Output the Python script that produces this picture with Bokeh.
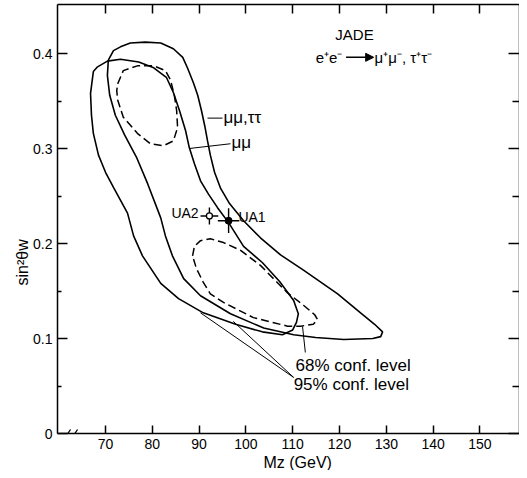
from math import pi
import numpy as np
from bokeh.plotting import figure
from bokeh.models import Range1d, LinearAxis, FixedTicker, Label, Arrow, NormalHead, Grid, Title
from bokeh.embed import file_html
from bokeh.resources import INLINE

# ---------------- data ----------------
mz_ticks = [70, 80, 90, 100, 110, 120, 130, 140, 150]
mz_tick_labels = ["70", "80", "90", "100", "110", "120", "130", "140", "150"]
sw_ticks = [0.0, 0.1, 0.2, 0.3, 0.4]
sw_tick_labels = ["0", "0.1", "0.2", "0.3", "0.4"]
sw_minor_ticks = [0.05, 0.15, 0.25, 0.35]

# 95% contour, mu mu only
mumu95_mz = [68.3, 67.4, 66.8, 67.0, 67.4, 68.5, 70.0, 71.7, 74.7, 76.0, 77.9, 81.8, 85.6,
             90.9, 97.8, 103.5, 107.8, 110.0, 110.8, 111.2, 110.2, 107.2, 103.5, 99.5, 96.3,
             93.9, 92.0, 90.3, 89.0, 87.9, 87.1, 85.8, 84.5, 83.0, 80.3, 77.1, 73.2, 70.4, 68.3]
mumu95_sw = [0.386, 0.381, 0.358, 0.335, 0.316, 0.293, 0.275, 0.259, 0.232, 0.208, 0.187, 0.158, 0.142,
             0.127, 0.115, 0.107, 0.104, 0.109, 0.117, 0.126, 0.140, 0.160, 0.180, 0.197, 0.222,
             0.238, 0.252, 0.266, 0.284, 0.301, 0.319, 0.340, 0.359, 0.375, 0.385, 0.391, 0.394, 0.392, 0.386]

# 95% contour, mu mu + tau tau
mumutautau95_mz = [70.6, 71.7, 73.2, 75.3, 78.5, 81.8, 84.5, 86.5, 87.5, 88.8, 89.7, 90.5, 91.2,
                   91.8, 92.4, 93.3, 94.6, 96.5, 99.5, 103.1, 107.4, 112.3, 119.6, 124.5, 127.5,
                   129.2, 128.8, 127.1, 120.9, 114.9, 110.2, 103.8, 96.7, 90.3, 86.7, 84.3, 82.8,
                   81.8, 79.0, 76.6, 74.1, 72.1, 70.9, 70.4, 70.6]
mumutautau95_sw = [0.393, 0.403, 0.407, 0.411, 0.412, 0.411, 0.405, 0.396, 0.385, 0.369, 0.356, 0.340, 0.324,
                   0.308, 0.293, 0.275, 0.258, 0.242, 0.224, 0.206, 0.188, 0.172, 0.147, 0.127, 0.115,
                   0.107, 0.102, 0.100, 0.099, 0.101, 0.104, 0.111, 0.126, 0.145, 0.163, 0.187, 0.208,
                   0.227, 0.263, 0.291, 0.314, 0.335, 0.356, 0.377, 0.393]

# 68% contours (dashed)
upper68_mz = [72.6, 73.8, 76.8, 80.3, 82.8, 83.9, 84.7, 85.2, 85.4, 84.5, 82.4, 79.6, 76.8,
              73.8, 72.6, 72.4, 72.6]
upper68_sw = [0.368, 0.382, 0.387, 0.387, 0.382, 0.372, 0.356, 0.340, 0.322, 0.308, 0.303, 0.305, 0.316,
              0.333, 0.351, 0.361, 0.368]
lower68_mz = [88.6, 89.0, 90.3, 92.4, 95.2, 98.8, 103.1, 108.9, 112.3, 114.7, 115.3, 114.4, 111.7,
              108.9, 101.6, 95.2, 92.4, 90.9, 89.4, 88.6]
lower68_sw = [0.187, 0.197, 0.203, 0.205, 0.201, 0.193, 0.177, 0.148, 0.135, 0.125, 0.120, 0.115, 0.113,
              0.113, 0.122, 0.138, 0.147, 0.159, 0.174, 0.187]

# collider measurements
ua_names = ["UA1", "UA2"]
ua_mz = [96.3, 92.2]
ua_sw = [0.224, 0.229]
ua_mz_err = [2.3, 1.9]
ua_sw_err = [0.013, 0.009]

FONT = "Liberation Sans"

p = figure(frame_width=462, frame_height=429,
           x_range=Range1d(59.74, 158.46), y_range=Range1d(0, 0.4516),
           x_axis_location=None, y_axis_location=None,
           output_backend="svg", toolbar_location=None,
           min_border_left=57, min_border_right=0, min_border_top=4, min_border_bottom=37)
p.outline_line_color = None
p.background_fill_color = "white"
p.border_fill_color = "white"
for r in list(p.center):
    if isinstance(r, Grid):
        r.visible = False

ax_style = dict(axis_line_width=1.5, axis_line_color="black",
                major_tick_line_width=1.5, major_tick_line_color="black",
                minor_tick_line_width=1.5, minor_tick_line_color="black",
                major_tick_out=0, minor_tick_out=0)

left = LinearAxis(ticker=FixedTicker(ticks=sw_ticks, minor_ticks=sw_minor_ticks),
                  major_tick_in=10, minor_tick_in=4, major_label_standoff=5,
                  major_label_text_font=FONT, major_label_text_font_size="14px",
                  major_label_text_color="black",
                  major_label_overrides=dict(zip(sw_ticks, sw_tick_labels)), **ax_style)
p.add_layout(left, "left")

right = LinearAxis(ticker=FixedTicker(ticks=sw_ticks, minor_ticks=sw_minor_ticks),
                   major_tick_in=11, minor_tick_in=7, major_label_standoff=0,
                   major_label_text_font_size="0px", major_label_text_color=None, **ax_style)
p.add_layout(right, "right")

bottom = LinearAxis(ticker=FixedTicker(ticks=mz_ticks, minor_ticks=[]),
                    major_tick_in=8, major_label_standoff=5,
                    major_label_text_font=FONT, major_label_text_font_size="14px",
                    major_label_text_color="black",
                    major_label_overrides=dict(zip(mz_ticks, mz_tick_labels)), **ax_style)
p.add_layout(bottom, "below")

top = LinearAxis(ticker=FixedTicker(ticks=mz_ticks, minor_ticks=[]),
                 major_tick_in=9, major_label_standoff=0,
                 major_label_text_font_size="0px", major_label_text_color=None, **ax_style)
p.add_layout(top, "above")

# axis titles
p.add_layout(Title(text="sin²θw", align="left", offset=148, standoff=0, text_color="black",
                   text_font=FONT, text_font_size="16px", text_font_style="normal"), "left")
p.add_layout(Title(text="Mz (GeV)", align="left", offset=206, standoff=0, text_color="black",
                   text_font=FONT, text_font_size="16px", text_font_style="normal"), "below")

# contours
p.line(mumu95_mz, mumu95_sw, line_color="black", line_width=1.6)
p.line(mumutautau95_mz, mumutautau95_sw, line_color="black", line_width=1.6)
p.line(upper68_mz, upper68_sw, line_color="black", line_width=1.5, line_dash="8 4")
p.line(lower68_mz, lower68_sw, line_color="black", line_width=1.5, line_dash="8 4")

# UA points with error bars
mz = np.array(ua_mz); sw = np.array(ua_sw)
emz = np.array(ua_mz_err); esw = np.array(ua_sw_err)
p.segment(x0=mz - emz, y0=sw, x1=mz + emz, y1=sw, line_color="black", line_width=1.4)
p.segment(x0=mz, y0=sw - esw, x1=mz, y1=sw + esw, line_color="black", line_width=1.4)
p.scatter(x=[ua_mz[0]], y=[ua_sw[0]], size=7, marker="circle", fill_color="black", line_color="black")
p.scatter(x=[ua_mz[1]], y=[ua_sw[1]], size=6, marker="circle", fill_color="white",
          line_color="black", line_width=1.3)

# pointer lines for the labels (annotation positions)
ptr_x0 = [91.8, 87.9, 112.1, 90.3, 97.3]
ptr_y0 = [0.332, 0.300, 0.1126, 0.127, 0.118]
ptr_x1 = [95.0, 96.7, 112.7, 110.2, 110.2]
ptr_y1 = [0.332, 0.305, 0.0853, 0.059, 0.059]
p.segment(x0=ptr_x0, y0=ptr_y0, x1=ptr_x1, y1=ptr_y1, line_color="black", line_width=1.0)

def lab(x, y, text, size, align="left", baseline="middle"):
    p.add_layout(Label(x=x, y=y, text=text, text_font=FONT, text_font_size=size,
                       text_align=align, text_baseline=baseline, text_color="black"))

lab(95.2, 0.3326, "μμ,ττ", "17px")
lab(96.9, 0.306, "μμ", "17px")
lab(89.9, 0.2326, ua_names[1], "14px", align="right", baseline="alphabetic")
lab(98.4, 0.2274, ua_names[0], "14px", baseline="alphabetic")
lab(110.6, 0.0716, "68% conf. level", "17px")
lab(110.2, 0.0516, "95% conf. level", "17px")
lab(123.2, 0.420, "JADE", "15px", align="center")
lab(114.9, 0.396, "e⁺e⁻", "15px")
lab(127.5, 0.396, "μ⁺μ⁻, τ⁺τ⁻", "15px")
p.add_layout(Arrow(end=NormalHead(size=8, fill_color="black", line_color="black"),
                   x_start=121.4, y_start=0.396, x_end=127.3, y_end=0.396,
                   line_color="black", line_width=1.5))

# axis break marks on the M_Z axis (only the part inside the frame is drawn)
for xs, xe in [(60.81, 62.52), (62.31, 64.02)]:
    p.add_layout(Arrow(end=None, x_start=xs, y_start=-0.0084, x_end=xe, y_end=0.0042,
                       line_color="black", line_width=1.3, level="overlay"))

open("out.html", "w").write(file_html(p, INLINE))
